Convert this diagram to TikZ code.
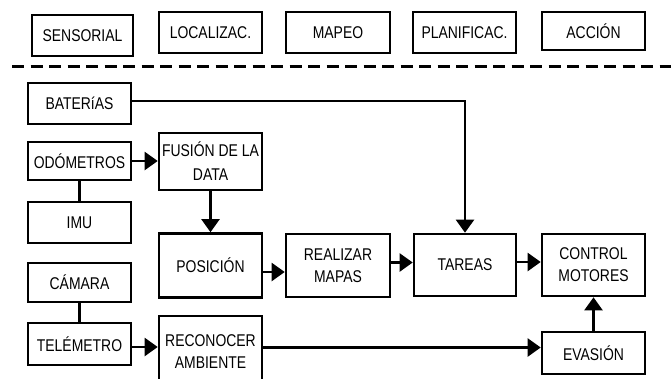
\documentclass[tikz,border=0pt]{standalone}
\usepackage{fontspec}
\setmainfont[FakeStretch=0.82]{Liberation Sans}
\usetikzlibrary{arrows.meta, calc}

\begin{document}
\begin{tikzpicture}[x=1pt, y=-1pt,
    box/.style={draw, line width=2.6pt, inner sep=0pt, align=center, minimum width=103pt},
    link/.style={line width=2.2pt},
    arr/.style={line width=2.2pt, -{Triangle[length=13pt, width=18pt]}},
    font=\fontsize{17}{22}\selectfont]
    \useasboundingbox (0,0) rectangle (671,378);
    % top row
    \node [box, minimum width=101pt, minimum height=41pt] (sens) at (82.5,35.5) {SENSORIAL};
    \node [box, minimum height=41pt] (loc) at (210.5,32.5) {LOCALIZAC.};
    \node [box, minimum width=104pt, minimum height=41pt] (mapeo) at (338,32.5) {MAPEO};
    \node [box, minimum height=41pt] (plan) at (464.5,32.5) {PLANIFICAC.};
    \node [box, minimum height=38pt] (acc) at (593.5,31) {ACCIÓN};
    \draw [line width=3pt, dash pattern=on 12pt off 6.5pt] (12,66) -- (671,66);
    % sensors
    \node [box, minimum height=41pt] (bat) at (79.5,103.5) {BATERíAS};
    \node [box, minimum height=38pt] (odo) at (79.5,161) {ODÓMETROS};
    \node [box, minimum height=41pt] (imu) at (79.5,222.5) {IMU};
    \node [box, minimum height=39pt] (cam) at (79.5,282.5) {CÁMARA};
    \node [box, minimum height=42pt] (tel) at (79.5,344) {TELÉMETRO};
    % processing
    \node [box, minimum height=57pt, font=\fontsize{17}{24}\selectfont] (fus) at (210.5,161.5) {FUSIÓN DE LA\\DATA};
    \node [box, minimum height=64pt] (pos) at (210.5,265.5) {POSICIÓN};
    \node [box, minimum height=72pt] (rec) at (210.5,352) {RECONOCER\\AMBIENTE};
    \node [box, minimum width=104pt, minimum height=63pt] (real) at (338,265.5) {REALIZAR\\MAPAS};
    \node [box, minimum width=102pt, minimum height=62pt] (tar) at (465,265) {TAREAS};
    \node [box, minimum height=62pt] (ctl) at (593.5,265) {CONTROL\\MOTORES};
    \node [box, minimum height=42pt] (eva) at (593.5,353) {EVASIÓN};
    % connections
    \draw [link] (odo) -- (imu);
    \draw [link] (cam) -- (tel);
    \draw [arr] (odo.east) -- (odo.east -| fus.west);
    \draw [arr] (fus) -- (pos);
    \draw [arr] ([yshift=-6.5pt]pos.east) -- ([yshift=-6.5pt]pos.east -| real.west);
    \draw [arr] ([yshift=3pt]real.east) -- ([yshift=3pt]real.east -| tar.west);
    \draw [arr] ([yshift=3pt]tar.east) -- ([yshift=3pt]tar.east -| ctl.west);
    \draw [arr] ([yshift=2.5pt]bat.east) -| (tar);
    \draw [arr] ([yshift=-3pt]tel.east) -- ([yshift=-3pt]tel.east -| rec.west);
    \draw [arr] ([yshift=4.5pt]rec.east) -- ([yshift=4.5pt]rec.east -| eva.west);
    \draw [arr] (eva) -- (ctl);
\end{tikzpicture}
\end{document}
